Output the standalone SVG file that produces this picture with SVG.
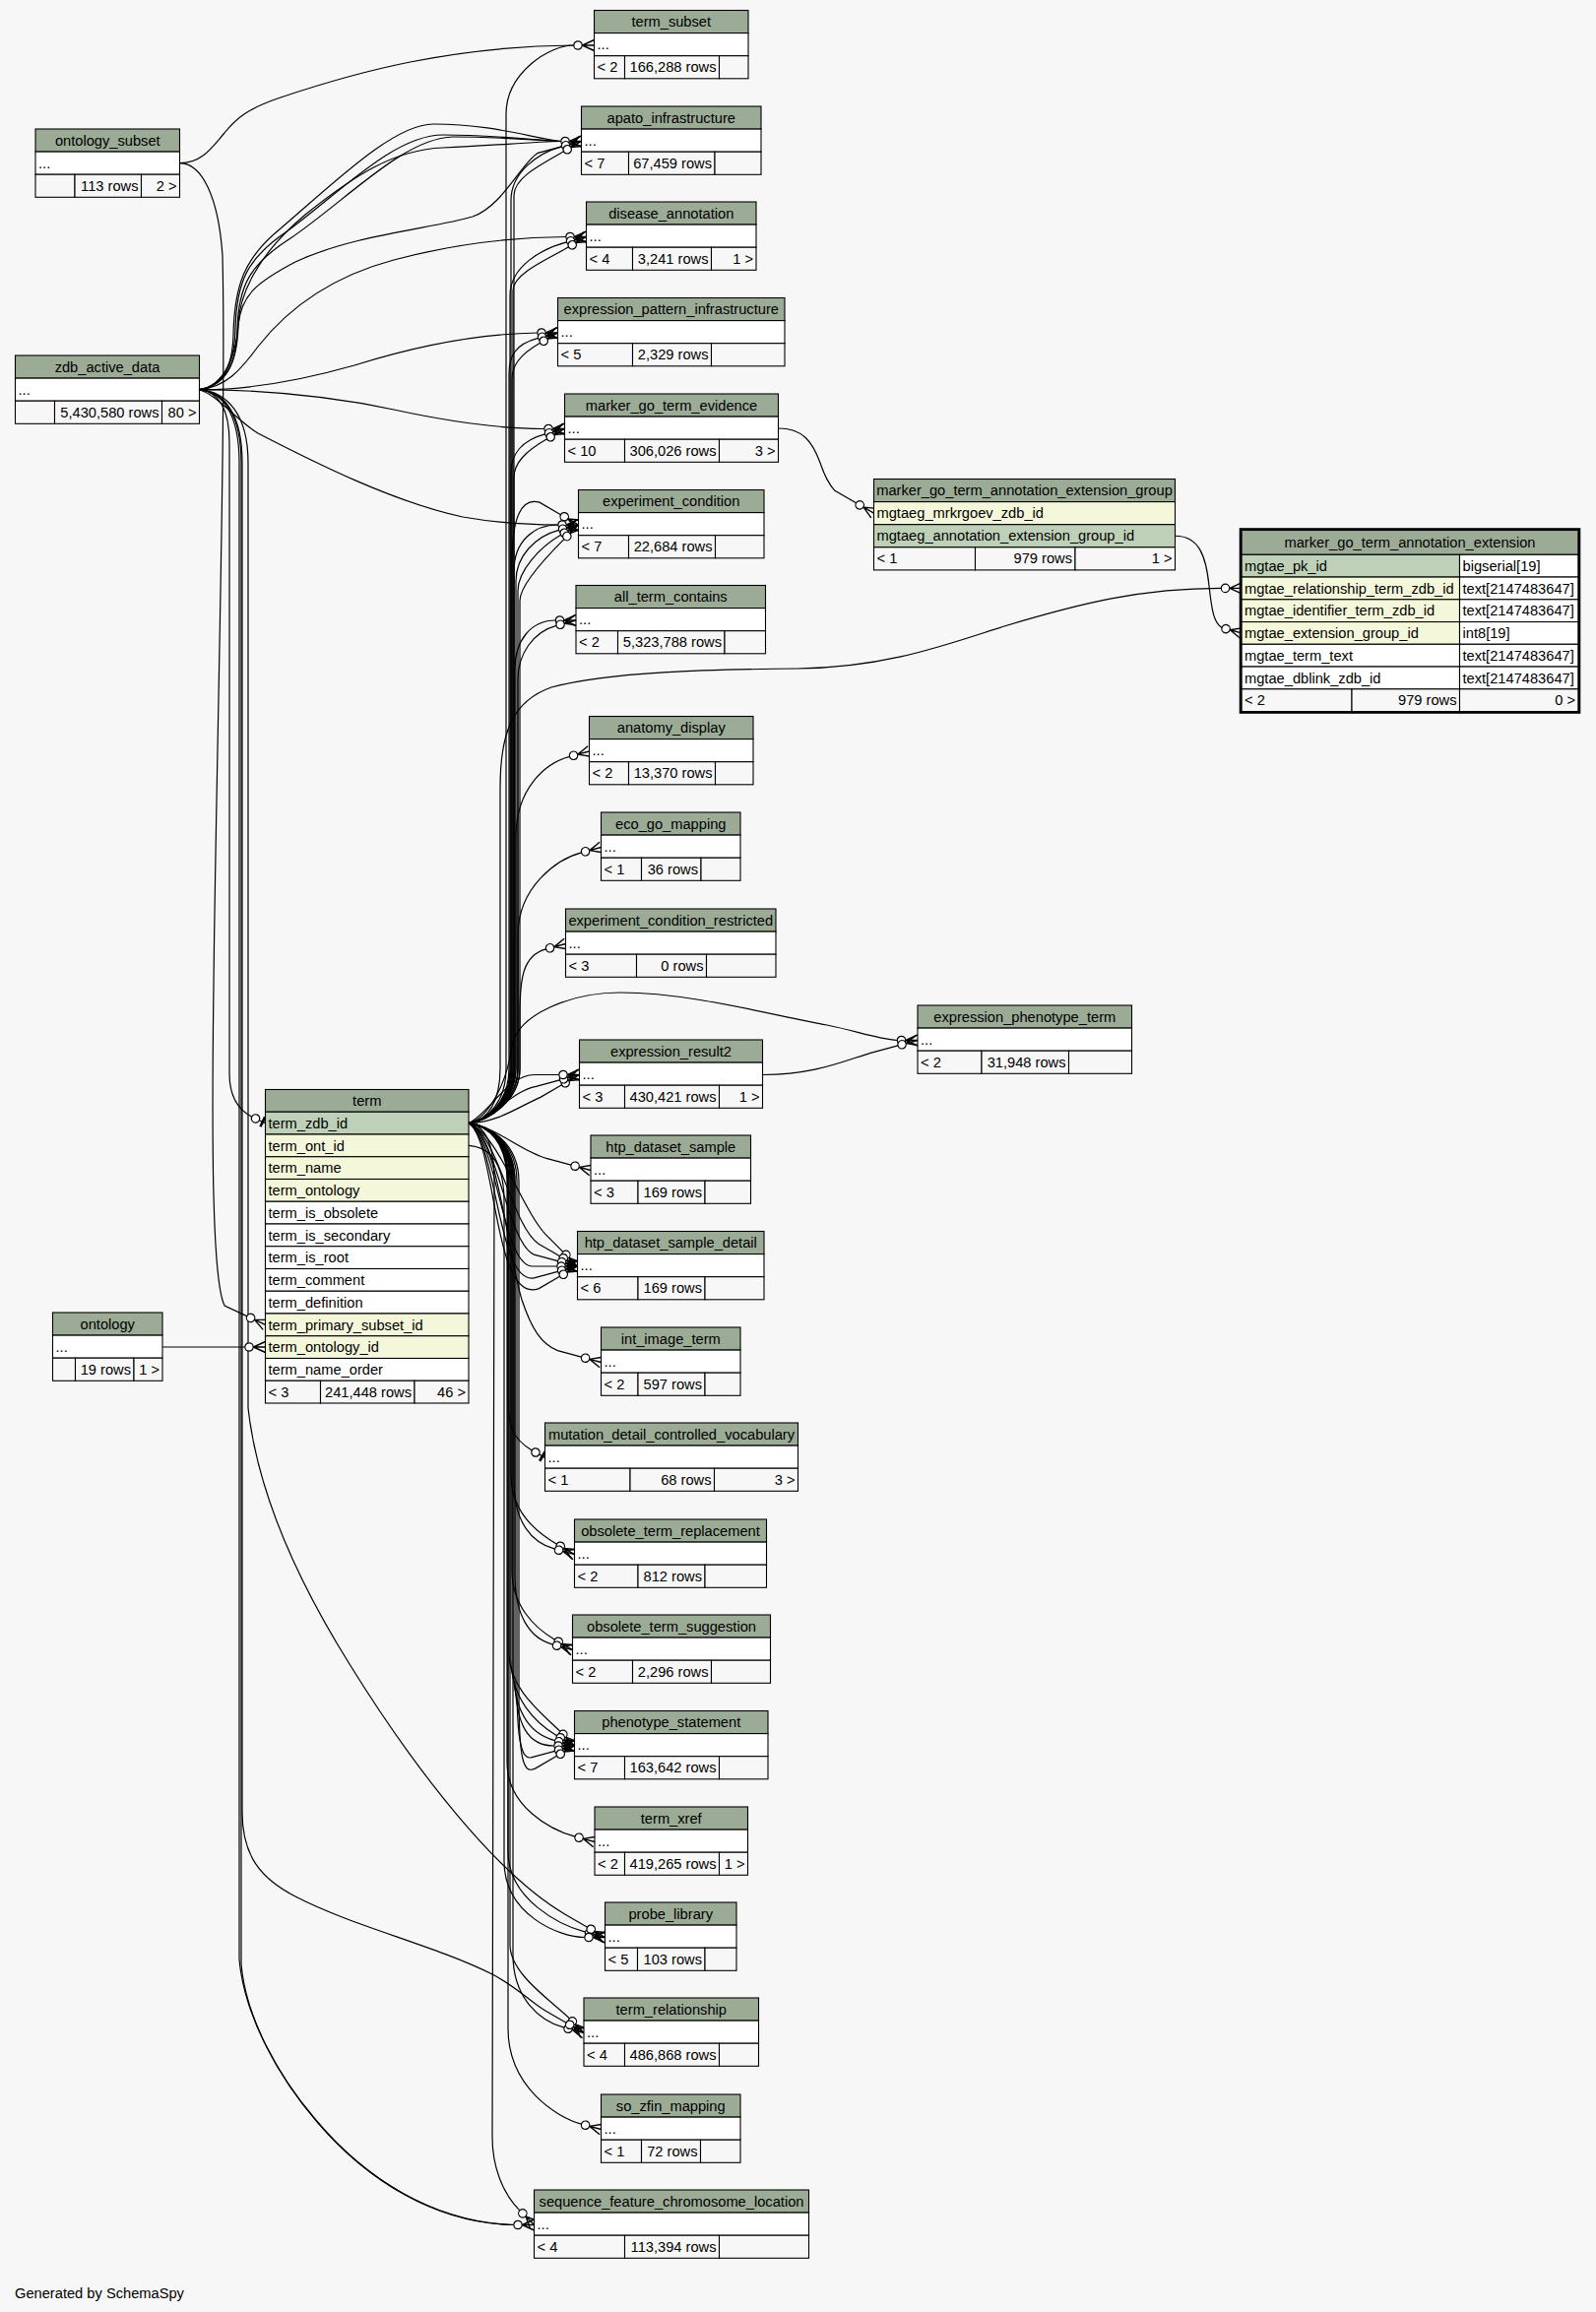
<svg xmlns="http://www.w3.org/2000/svg" xmlns:xlink="http://www.w3.org/1999/xlink" width="1621" height="2348" viewBox="0 0 1621 2348">
<style>
rect{stroke:#000;stroke-width:1.1}
.hd{fill:#9bab96}.bd{fill:#fff}.ft{fill:#f7f7f7}.pk{fill:#bed1b8}.fk{fill:#f4f7da}
text{font-family:"Liberation Sans",Arial,Helvetica,sans-serif;font-size:14.67px;fill:#000}
.c{text-anchor:middle}.r{text-anchor:end}
#connectors path{fill:none;stroke:#000;stroke-width:1.2}
</style>
<defs>
<g id="cod"><circle cx="-16.5" cy="0" r="4.2" fill="#fff" stroke="#000" stroke-width="1.2"/><path d="M-12.3,0H0M-12,0L0,-5.5M-12,0L0,5.5" fill="none" stroke="#000" stroke-width="1.4"/></g>
<g id="tod"><circle cx="-11" cy="0" r="4.2" fill="#fff" stroke="#000" stroke-width="1.2"/><path d="M-6.8,0H0" fill="none" stroke="#000" stroke-width="1.2"/><path d="M-3,-5.5V5.5" fill="none" stroke="#000" stroke-width="2.6"/></g>
</defs>
<rect x="0" y="0" width="1621" height="2348" fill="#f7f7f7" style="stroke:none"/>

<g id="connectors">
<!-- term edges -->
<path d="M476,1140.6 C496,1138 514,1118 514,1085 L514,116 C514,74 557.8,46 582.8,46"/>
<path d="M476,1140.6 C496,1138 519,1118 519,1085 L519,203.5 C519,175 546.4,155.33 570.5,148.86"/>
<path d="M476,1140.6 C496,1138 522,1118 522,1085 L522,198.5 C522,180 550.92,166.35 572.57,153.85"/>
<path d="M476,1140.6 C496,1138 518,1118 518,1085 L518,300 C518,270 551.4,252.33 575.5,245.86"/>
<path d="M476,1140.6 C496,1138 521,1118 521,1085 L521,295 C521,278 555.92,263.35 577.57,250.85"/>
<path d="M476,1140.6 C496,1138 517,1118 517,1085 L517,380 C517,362 522.4,349.83 546.5,343.36"/>
<path d="M476,1140.6 C496,1138 520,1118 520,1085 L520,385 C520,372 526.92,360.85 548.57,348.35"/>
<path d="M476,1140.6 C496,1138 519,1118 519,1085 L519,480 C519,462 529.4,447.33 553.5,440.86"/>
<path d="M476,1140.6 C496,1138 522,1118 522,1085 L522,485 C522,470 533.92,458.35 555.57,445.85"/>
<path d="M476,1140.6 C496,1138 520,1118 520,1085 L520,570 C520,525 530,505 547.92,510.15 L569.57,522.65"/>
<path d="M476,1140.6 C496,1138 522,1118 522,1085 L522,580 C522,550 541.8,533 566.8,533"/>
<path d="M476,1140.6 C496,1138 524,1118 524,1085 L524,590 C524,565 543.4,544.83 567.5,538.36"/>
<path d="M476,1140.6 C496,1138 526,1118 526,1085 L526,600 C526,580 547.92,555.85 569.57,543.35"/>
<path d="M476,1140.6 C496,1138 528,1118 528,1085 L528,610 C528,595 555.2,565.3 572.86,547.64"/>
<path d="M476,1140.6 C496,1138 523,1118 523,1085 L523,680 C523,650 539.3,630 564.3,630"/>
<path d="M476,1140.6 C496,1138 526,1118 526,1085 L526,690 C526,665 540.9,641.83 565,635.36"/>
<path d="M476,1140.6 C496,1138 508,1118 508,1085 L508,800 C508,745 520,712 560,698 C620,682 720,680 810,679 C900,678 960,655 1020,636 C1100,612 1160,597.4 1240.3,597.4"/>
<path d="M476,1140.6 C496,1138 524,1118 524,1085 L524,850 C524,800 554.4,774.83 578.5,768.36"/>
<path d="M476,1140.6 C496,1138 526,1118 526,1085 L526,950 C526,900 566.4,872.33 590.5,865.86"/>
<path d="M476,1140.6 C496,1138 528,1118 528,1085 L528,1030 C528,995 530.4,970.33 554.5,963.86"/>
<path d="M476,1140.6 C496,1136 515,1100 520,1062 C526,1030 580,1008 630,1008 C700,1008 780,1030 840,1041 C870,1047 890,1055 911.3,1056.5"/>
<path d="M476,1140.6 C505,1140 525,1125 548.92,1114.35 L570.57,1101.85"/>
<path d="M476,1140.6 C500,1136 520,1108 544.4,1103.33 L568.5,1096.86"/>
<path d="M476,1140.6 C498,1130 515,1091.5 542.8,1091.5 L567.8,1091.5"/>
<path d="M476,1140.6 C505,1145 530,1170 555.9,1176.67 L580,1183.14"/>
<path d="M476,1140.6 C505,1150 530,1228 554.2,1253.7 L571.86,1271.36"/>
<path d="M476,1140.6 C505,1150 520,1245 546.92,1263.15 L568.57,1275.65"/>
<path d="M476,1140.6 C505,1152 515,1262 542.4,1274.17 L566.5,1280.64"/>
<path d="M476,1140.6 C505,1155 510,1286 540.8,1286 L565.8,1286"/>
<path d="M476,1140.6 C505,1158 505,1305 542.4,1297.83 L566.5,1291.36"/>
<path d="M476,1140.6 C505,1160 500,1325 546.92,1308.85 L568.57,1296.35"/>
<path d="M476,1140.6 C505,1150 515,1270 530,1320 C540,1350 550,1365 566.4,1371.67 L590.5,1378.14"/>
<path d="M476,1140.6 C496,1143 516,1160 516,1200 L516,1420 C516,1445 518.7,1460.4 540.34,1472.9"/>
<path d="M476,1140.6 C496,1143 519,1160 519,1200 L519,1498.5 C519,1535 543.92,1555.65 565.57,1568.15"/>
<path d="M476,1140.6 C496,1143 522,1160 522,1200 L522,1505 C522,1545 539.4,1566.67 563.5,1573.14"/>
<path d="M476,1140.6 C496,1143 520,1160 520,1200 L520,1595 C520,1630 541.92,1652.65 563.57,1665.15"/>
<path d="M476,1140.6 C496,1143 523,1160 523,1200 L523,1600 C523,1640 537.4,1663.67 561.5,1670.14"/>
<path d="M476,1140.6 C496,1143 517,1160 517,1200 L517,1680 C517,1715 551.2,1740.7 568.86,1758.36"/>
<path d="M476,1140.6 C496,1143 519,1160 519,1200 L519,1685 C519,1725 543.92,1750.15 565.57,1762.65"/>
<path d="M476,1140.6 C496,1143 521,1160 521,1200 L521,1690 C521,1740 539.4,1761.17 563.5,1767.64"/>
<path d="M476,1140.6 C496,1143 523,1160 523,1200 L523,1700 C523,1755 537.8,1773 562.8,1773"/>
<path d="M476,1140.6 C496,1143 525,1160 525,1200 L525,1710 C525,1770 530,1787 539.4,1784.83 L563.5,1778.36"/>
<path d="M476,1140.6 C496,1143 527,1160 527,1200 L527,1720 C527,1790 532,1802 543.92,1795.85 L565.57,1783.35"/>
<path d="M476,1140.6 C496,1143 515,1160 515,1200 L515,1790 C515,1835 559.9,1858.67 584,1865.14"/>
<path d="M476,1140.6 C496,1143 516,1160 516,1200 L516,1880 C516,1930 570.4,1955.67 594.5,1962.14"/>
<path d="M476,1163.4 C500,1165 512,1185 512,1220 L512,1890 C512,1945 568.8,1967.5 593.8,1967.5"/>
<path d="M476,1140.6 C496,1143 518,1160 518,1200 L518,1975 C518,2005 560.7,2032.2 578.36,2049.86"/>
<path d="M476,1140.6 C496,1143 521,1160 521,1200 L521,1985 C521,2030 548.9,2052.67 573,2059.14"/>
<path d="M476,1140.6 C496,1143 516,1160 516,1200 L516,2060 C516,2120 566.4,2150.67 590.5,2157.14"/>
<path d="M476,1140.6 C494,1143 502,1165 502,1200 L500,2170 C500,2200 510.2,2227.2 527.86,2244.86"/>
<!-- zdb_active_data edges -->
<path d="M202.5,395.7 C225,392 236,375 237,340 C238,290 248,262 285,232 C340,185 400,126 440,126 C500,126 540,140 569.8,143.5"/>
<path d="M202.5,395.7 C226,392 238,372 239,335 C240,285 252,262 290,236 C345,196 400,137 450,137 C500,137 540,142 569.8,143.5"/>
<path d="M202.5,395.7 C227,392 240,372 241,335 C242,290 254,268 295,242 C350,205 410,140 460,139 C510,139 540,142 569.8,143.5"/>
<path d="M202.5,395.7 C228,392 241,372 242,330 C243,300 260,260 310,218 C360,178 400,152 450,150 C500,148 540,144 569.8,143.5"/>
<path d="M202.5,395.7 C228,392 240,360 242,330 C245,300 260,287 300,266 C360,238 440,232 480,220 C510,210 530,165 546.4,155.33 L570.5,148.86"/>
<path d="M202.5,395.7 C230,393 245,375 262,352 C295,310 340,280 400,264 C460,248 520,241 574.8,240.5"/>
<path d="M202.5,395.7 C250,396 300,388 360,371 C420,352 480,339 545.8,338"/>
<path d="M202.5,395.7 C260,396 330,401 400,416 C460,429 510,435.5 552.8,435.5"/>
<path d="M202.5,395.7 C222,402 238,425 262,440 C320,470 400,510 470,525 C510,532 540,533 566.8,533"/>
<path d="M202.5,395.7 C222,398 233,415 233,450 L233,1090 C233,1112 240,1126 255.73,1134.17"/>
<path d="M202.5,395.7 C230,398 252,420 252,470 L252,1430 C262,1520 305,1610 355,1690 C420,1795 505,1905 574.92,1944.65 L596.57,1957.15"/>
<path d="M202.5,395.7 C228,398 246,420 246,470 L246,1840 C246,1885 265,1908 300,1926 C360,1957 440,1975 500,2005 C525,2018 540,2034 553.42,2041.65 L575.07,2054.15"/>
<path d="M202.5,395.7 C226,398 243,420 243,470 L243,1990 C248,2045 280,2105 320,2152 C370,2212 440,2257 521.8,2259.5"/>
<path d="M202.5,395.7 C227,398 245,420 245,470 L245,1995 C250,2050 283,2110 323,2156 C373,2214 442,2258 521.8,2259.5"/>
<!-- ontology_subset edges -->
<path d="M182.5,165.7 C205,165.7 215,150 228,135 C240,120 252,110 285,99 C365,72 460,47 582.8,46"/>
<path d="M182.5,165.7 C205,165.7 222,200 226,260 C230,420 219,800 217,1000 C215,1150 215,1300 228.1,1326.1 L250.74,1336.65"/>
<!-- ontology edge -->
<path d="M165,1368 L248.8,1368"/>
<!-- marker_go_term_evidence -> group -->
<path d="M790.5,435 C815,435 825,448 833,470 C838,485 842,492 847.92,498.3 L869.57,510.8"/>
<!-- group -> extension -->
<path d="M1193.5,544.25 C1218,544.25 1225,565 1228,595 C1231,622 1233,632 1241,637.54"/>
<!-- expression_result2 -> expression_phenotype_term -->
<path d="M774.5,1091.5 C830,1091.5 860,1076 887.9,1068.33 L912,1061.86"/>

<!-- arrowheads -->
<use xlink:href="#cod" transform="translate(603.5,46)"/>
<use xlink:href="#cod" transform="translate(590.5,143.5)"/>
<use xlink:href="#cod" transform="translate(590.5,143.5) rotate(-15)"/>
<use xlink:href="#cod" transform="translate(590.5,143.5) rotate(-30)"/>
<use xlink:href="#cod" transform="translate(595.5,240.5)"/>
<use xlink:href="#cod" transform="translate(595.5,240.5) rotate(-15)"/>
<use xlink:href="#cod" transform="translate(595.5,240.5) rotate(-30)"/>
<use xlink:href="#cod" transform="translate(566.5,338)"/>
<use xlink:href="#cod" transform="translate(566.5,338) rotate(-15)"/>
<use xlink:href="#cod" transform="translate(566.5,338) rotate(-30)"/>
<use xlink:href="#cod" transform="translate(573.5,435.5)"/>
<use xlink:href="#cod" transform="translate(573.5,435.5) rotate(-15)"/>
<use xlink:href="#cod" transform="translate(573.5,435.5) rotate(-30)"/>
<use xlink:href="#cod" transform="translate(587.5,533) rotate(30)"/>
<use xlink:href="#cod" transform="translate(587.5,533)"/>
<use xlink:href="#cod" transform="translate(587.5,533) rotate(-15)"/>
<use xlink:href="#cod" transform="translate(587.5,533) rotate(-30)"/>
<use xlink:href="#cod" transform="translate(587.5,533) rotate(-45)"/>
<use xlink:href="#cod" transform="translate(585,630)"/>
<use xlink:href="#cod" transform="translate(585,630) rotate(-15)"/>
<use xlink:href="#cod" transform="translate(1261,597.4)"/>
<use xlink:href="#cod" transform="translate(598.5,763) rotate(-15)"/>
<use xlink:href="#cod" transform="translate(610.5,860.5) rotate(-15)"/>
<use xlink:href="#cod" transform="translate(574.5,958.5) rotate(-15)"/>
<use xlink:href="#cod" transform="translate(932,1056.5)"/>
<use xlink:href="#cod" transform="translate(932,1056.5) rotate(-15)"/>
<use xlink:href="#cod" transform="translate(588.5,1091.5) rotate(-30)"/>
<use xlink:href="#cod" transform="translate(588.5,1091.5) rotate(-15)"/>
<use xlink:href="#cod" transform="translate(588.5,1091.5)"/>
<use xlink:href="#cod" transform="translate(600,1188.5) rotate(15)"/>
<use xlink:href="#cod" transform="translate(586.5,1286) rotate(45)"/>
<use xlink:href="#cod" transform="translate(586.5,1286) rotate(30)"/>
<use xlink:href="#cod" transform="translate(586.5,1286) rotate(15)"/>
<use xlink:href="#cod" transform="translate(586.5,1286)"/>
<use xlink:href="#cod" transform="translate(586.5,1286) rotate(-15)"/>
<use xlink:href="#cod" transform="translate(586.5,1286) rotate(-30)"/>
<use xlink:href="#cod" transform="translate(610.5,1383.5) rotate(15)"/>
<use xlink:href="#tod" transform="translate(553.5,1480.5) rotate(30)"/>
<use xlink:href="#cod" transform="translate(583.5,1578.5) rotate(30)"/>
<use xlink:href="#cod" transform="translate(583.5,1578.5) rotate(15)"/>
<use xlink:href="#cod" transform="translate(581.5,1675.5) rotate(30)"/>
<use xlink:href="#cod" transform="translate(581.5,1675.5) rotate(15)"/>
<use xlink:href="#cod" transform="translate(583.5,1773) rotate(45)"/>
<use xlink:href="#cod" transform="translate(583.5,1773) rotate(30)"/>
<use xlink:href="#cod" transform="translate(583.5,1773) rotate(15)"/>
<use xlink:href="#cod" transform="translate(583.5,1773)"/>
<use xlink:href="#cod" transform="translate(583.5,1773) rotate(-15)"/>
<use xlink:href="#cod" transform="translate(583.5,1773) rotate(-30)"/>
<use xlink:href="#cod" transform="translate(604,1870.5) rotate(15)"/>
<use xlink:href="#cod" transform="translate(614.5,1967.5) rotate(15)"/>
<use xlink:href="#cod" transform="translate(614.5,1967.5)"/>
<use xlink:href="#cod" transform="translate(614.5,1967.5) rotate(30)"/>
<use xlink:href="#cod" transform="translate(593,2064.5) rotate(45)"/>
<use xlink:href="#cod" transform="translate(593,2064.5) rotate(15)"/>
<use xlink:href="#cod" transform="translate(593,2064.5) rotate(30)"/>
<use xlink:href="#cod" transform="translate(610.5,2162.5) rotate(15)"/>
<use xlink:href="#cod" transform="translate(542.5,2259.5) rotate(45)"/>
<use xlink:href="#cod" transform="translate(542.5,2259.5)"/>
<use xlink:href="#tod" transform="translate(269.5,1140.6) rotate(25)"/>
<use xlink:href="#cod" transform="translate(269.5,1345.4) rotate(25)"/>
<use xlink:href="#cod" transform="translate(269.5,1368)"/>
<use xlink:href="#cod" transform="translate(887.5,521.15) rotate(30)"/>
<use xlink:href="#cod" transform="translate(1261,642.9) rotate(15)"/>
</g>

<g id="term_subset">
<rect class="hd" x="603.5" y="10.5" width="156.5" height="23.1"/><text class="c" x="681.75" y="27">term_subset</text>
<rect class="bd" x="603.5" y="33.6" width="156.5" height="23.1"/><text x="606.5" y="50.1">...</text>
<rect class="ft" x="603.5" y="56.7" width="31" height="23.1"/><rect class="ft" x="634.5" y="56.7" width="96" height="23.1"/><rect class="ft" x="730.5" y="56.7" width="29.5" height="23.1"/>
<text x="606.5" y="73.2">&lt; 2</text><text class="r" x="727.5" y="73.2">166,288 rows</text>
</g>
<g id="apato_infrastructure">
<rect class="hd" x="590.5" y="108" width="182.5" height="23.1"/><text class="c" x="681.75" y="124.5">apato_infrastructure</text>
<rect class="bd" x="590.5" y="131.1" width="182.5" height="23.1"/><text x="593.5" y="147.6">...</text>
<rect class="ft" x="590.5" y="154.2" width="48" height="23.1"/><rect class="ft" x="638.5" y="154.2" width="87.5" height="23.1"/><rect class="ft" x="726" y="154.2" width="47" height="23.1"/>
<text x="593.5" y="170.7">&lt; 7</text><text class="r" x="723" y="170.7">67,459 rows</text>
</g>
<g id="disease_annotation">
<rect class="hd" x="595.5" y="205" width="172.5" height="23.1"/><text class="c" x="681.75" y="221.5">disease_annotation</text>
<rect class="bd" x="595.5" y="228.1" width="172.5" height="23.1"/><text x="598.5" y="244.6">...</text>
<rect class="ft" x="595.5" y="251.2" width="47" height="23.1"/><rect class="ft" x="642.5" y="251.2" width="80" height="23.1"/><rect class="ft" x="722.5" y="251.2" width="45.5" height="23.1"/>
<text x="598.5" y="267.7">&lt; 4</text><text class="r" x="719.5" y="267.7">3,241 rows</text><text class="r" x="765" y="267.7">1 &gt;</text>
</g>
<g id="expression_pattern_infrastructure">
<rect class="hd" x="566.5" y="302.5" width="230.5" height="23.1"/><text class="c" x="681.75" y="319">expression_pattern_infrastructure</text>
<rect class="bd" x="566.5" y="325.6" width="230.5" height="23.1"/><text x="569.5" y="342.1">...</text>
<rect class="ft" x="566.5" y="348.7" width="76" height="23.1"/><rect class="ft" x="642.5" y="348.7" width="80" height="23.1"/><rect class="ft" x="722.5" y="348.7" width="74.5" height="23.1"/>
<text x="569.5" y="365.2">&lt; 5</text><text class="r" x="719.5" y="365.2">2,329 rows</text>
</g>
<g id="marker_go_term_evidence">
<rect class="hd" x="573.5" y="400" width="217" height="23.1"/><text class="c" x="682" y="416.5">marker_go_term_evidence</text>
<rect class="bd" x="573.5" y="423.1" width="217" height="23.1"/><text x="576.5" y="439.6">...</text>
<rect class="ft" x="573.5" y="446.2" width="61" height="23.1"/><rect class="ft" x="634.5" y="446.2" width="96" height="23.1"/><rect class="ft" x="730.5" y="446.2" width="60" height="23.1"/>
<text x="576.5" y="462.7">&lt; 10</text><text class="r" x="727.5" y="462.7">306,026 rows</text><text class="r" x="787.5" y="462.7">3 &gt;</text>
</g>
<g id="experiment_condition">
<rect class="hd" x="587.5" y="497.5" width="188.5" height="23.1"/><text class="c" x="681.75" y="514">experiment_condition</text>
<rect class="bd" x="587.5" y="520.6" width="188.5" height="23.1"/><text x="590.5" y="537.1">...</text>
<rect class="ft" x="587.5" y="543.7" width="51" height="23.1"/><rect class="ft" x="638.5" y="543.7" width="88" height="23.1"/><rect class="ft" x="726.5" y="543.7" width="49.5" height="23.1"/>
<text x="590.5" y="560.2">&lt; 7</text><text class="r" x="723.5" y="560.2">22,684 rows</text>
</g>
<g id="all_term_contains">
<rect class="hd" x="585" y="594.5" width="192.5" height="23.1"/><text class="c" x="681.25" y="611">all_term_contains</text>
<rect class="bd" x="585" y="617.6" width="192.5" height="23.1"/><text x="588" y="634.1">...</text>
<rect class="ft" x="585" y="640.7" width="42.5" height="23.1"/><rect class="ft" x="627.5" y="640.7" width="108.5" height="23.1"/><rect class="ft" x="736" y="640.7" width="41.5" height="23.1"/>
<text x="588" y="657.2">&lt; 2</text><text class="r" x="733" y="657.2">5,323,788 rows</text>
</g>
<g id="anatomy_display">
<rect class="hd" x="598.5" y="727.5" width="166.5" height="23.1"/><text class="c" x="681.75" y="744">anatomy_display</text>
<rect class="bd" x="598.5" y="750.6" width="166.5" height="23.1"/><text x="601.5" y="767.1">...</text>
<rect class="ft" x="598.5" y="773.7" width="40" height="23.1"/><rect class="ft" x="638.5" y="773.7" width="88" height="23.1"/><rect class="ft" x="726.5" y="773.7" width="38.5" height="23.1"/>
<text x="601.5" y="790.2">&lt; 2</text><text class="r" x="723.5" y="790.2">13,370 rows</text>
</g>
<g id="eco_go_mapping">
<rect class="hd" x="610.5" y="825" width="141.5" height="23.1"/><text class="c" x="681.25" y="841.5">eco_go_mapping</text>
<rect class="bd" x="610.5" y="848.1" width="141.5" height="23.1"/><text x="613.5" y="864.6">...</text>
<rect class="ft" x="610.5" y="871.2" width="41" height="23.1"/><rect class="ft" x="651.5" y="871.2" width="60.5" height="23.1"/><rect class="ft" x="712" y="871.2" width="40" height="23.1"/>
<text x="613.5" y="887.7">&lt; 1</text><text class="r" x="709" y="887.7">36 rows</text>
</g>
<g id="experiment_condition_restricted">
<rect class="hd" x="574.5" y="923" width="213.5" height="23.1"/><text class="c" x="681.25" y="939.5">experiment_condition_restricted</text>
<rect class="bd" x="574.5" y="946.1" width="213.5" height="23.1"/><text x="577.5" y="962.6">...</text>
<rect class="ft" x="574.5" y="969.2" width="72" height="23.1"/><rect class="ft" x="646.5" y="969.2" width="71" height="23.1"/><rect class="ft" x="717.5" y="969.2" width="70.5" height="23.1"/>
<text x="577.5" y="985.7">&lt; 3</text><text class="r" x="714.5" y="985.7">0 rows</text>
</g>
<g id="expression_phenotype_term">
<rect class="hd" x="932" y="1021" width="217.5" height="23.1"/><text class="c" x="1040.75" y="1037.5">expression_phenotype_term</text>
<rect class="bd" x="932" y="1044.1" width="217.5" height="23.1"/><text x="935" y="1060.6">...</text>
<rect class="ft" x="932" y="1067.2" width="65" height="23.1"/><rect class="ft" x="997" y="1067.2" width="88.5" height="23.1"/><rect class="ft" x="1085.5" y="1067.2" width="64" height="23.1"/>
<text x="935" y="1083.7">&lt; 2</text><text class="r" x="1082.5" y="1083.7">31,948 rows</text>
</g>
<g id="expression_result2">
<rect class="hd" x="588.5" y="1056" width="186" height="23.1"/><text class="c" x="681.5" y="1072.5">expression_result2</text>
<rect class="bd" x="588.5" y="1079.1" width="186" height="23.1"/><text x="591.5" y="1095.6">...</text>
<rect class="ft" x="588.5" y="1102.2" width="46" height="23.1"/><rect class="ft" x="634.5" y="1102.2" width="96" height="23.1"/><rect class="ft" x="730.5" y="1102.2" width="44" height="23.1"/>
<text x="591.5" y="1118.7">&lt; 3</text><text class="r" x="727.5" y="1118.7">430,421 rows</text><text class="r" x="771.5" y="1118.7">1 &gt;</text>
</g>
<g id="htp_dataset_sample">
<rect class="hd" x="600" y="1153" width="162.5" height="23.1"/><text class="c" x="681.25" y="1169.5">htp_dataset_sample</text>
<rect class="bd" x="600" y="1176.1" width="162.5" height="23.1"/><text x="603" y="1192.6">...</text>
<rect class="ft" x="600" y="1199.2" width="48" height="23.1"/><rect class="ft" x="648" y="1199.2" width="68" height="23.1"/><rect class="ft" x="716" y="1199.2" width="46.5" height="23.1"/>
<text x="603" y="1215.7">&lt; 3</text><text class="r" x="713" y="1215.7">169 rows</text>
</g>
<g id="htp_dataset_sample_detail">
<rect class="hd" x="586.5" y="1250.5" width="189.5" height="23.1"/><text class="c" x="681.25" y="1267">htp_dataset_sample_detail</text>
<rect class="bd" x="586.5" y="1273.6" width="189.5" height="23.1"/><text x="589.5" y="1290.1">...</text>
<rect class="ft" x="586.5" y="1296.7" width="61.5" height="23.1"/><rect class="ft" x="648" y="1296.7" width="68" height="23.1"/><rect class="ft" x="716" y="1296.7" width="60" height="23.1"/>
<text x="589.5" y="1313.2">&lt; 6</text><text class="r" x="713" y="1313.2">169 rows</text>
</g>
<g id="int_image_term">
<rect class="hd" x="610.5" y="1348" width="141.5" height="23.1"/><text class="c" x="681.25" y="1364.5">int_image_term</text>
<rect class="bd" x="610.5" y="1371.1" width="141.5" height="23.1"/><text x="613.5" y="1387.6">...</text>
<rect class="ft" x="610.5" y="1394.2" width="37.5" height="23.1"/><rect class="ft" x="648" y="1394.2" width="68" height="23.1"/><rect class="ft" x="716" y="1394.2" width="36" height="23.1"/>
<text x="613.5" y="1410.7">&lt; 2</text><text class="r" x="713" y="1410.7">597 rows</text>
</g>
<g id="mutation_detail_controlled_vocabulary">
<rect class="hd" x="553.5" y="1445" width="257" height="23.1"/><text class="c" x="682" y="1461.5">mutation_detail_controlled_vocabulary</text>
<rect class="bd" x="553.5" y="1468.1" width="257" height="23.1"/><text x="556.5" y="1484.6">...</text>
<rect class="ft" x="553.5" y="1491.2" width="86.5" height="23.1"/><rect class="ft" x="640" y="1491.2" width="85.5" height="23.1"/><rect class="ft" x="725.5" y="1491.2" width="85" height="23.1"/>
<text x="556.5" y="1507.7">&lt; 1</text><text class="r" x="722.5" y="1507.7">68 rows</text><text class="r" x="807.5" y="1507.7">3 &gt;</text>
</g>
<g id="obsolete_term_replacement">
<rect class="hd" x="583.5" y="1543" width="195" height="23.1"/><text class="c" x="681" y="1559.5">obsolete_term_replacement</text>
<rect class="bd" x="583.5" y="1566.1" width="195" height="23.1"/><text x="586.5" y="1582.6">...</text>
<rect class="ft" x="583.5" y="1589.2" width="64.5" height="23.1"/><rect class="ft" x="648" y="1589.2" width="68" height="23.1"/><rect class="ft" x="716" y="1589.2" width="62.5" height="23.1"/>
<text x="586.5" y="1605.7">&lt; 2</text><text class="r" x="713" y="1605.7">812 rows</text>
</g>
<g id="obsolete_term_suggestion">
<rect class="hd" x="581.5" y="1640" width="201" height="23.1"/><text class="c" x="682" y="1656.5">obsolete_term_suggestion</text>
<rect class="bd" x="581.5" y="1663.1" width="201" height="23.1"/><text x="584.5" y="1679.6">...</text>
<rect class="ft" x="581.5" y="1686.2" width="61" height="23.1"/><rect class="ft" x="642.5" y="1686.2" width="80" height="23.1"/><rect class="ft" x="722.5" y="1686.2" width="60" height="23.1"/>
<text x="584.5" y="1702.7">&lt; 2</text><text class="r" x="719.5" y="1702.7">2,296 rows</text>
</g>
<g id="phenotype_statement">
<rect class="hd" x="583.5" y="1737.5" width="196.5" height="23.1"/><text class="c" x="681.75" y="1754">phenotype_statement</text>
<rect class="bd" x="583.5" y="1760.6" width="196.5" height="23.1"/><text x="586.5" y="1777.1">...</text>
<rect class="ft" x="583.5" y="1783.7" width="51" height="23.1"/><rect class="ft" x="634.5" y="1783.7" width="96" height="23.1"/><rect class="ft" x="730.5" y="1783.7" width="49.5" height="23.1"/>
<text x="586.5" y="1800.2">&lt; 7</text><text class="r" x="727.5" y="1800.2">163,642 rows</text>
</g>
<g id="term_xref">
<rect class="hd" x="604" y="1835" width="155.5" height="23.1"/><text class="c" x="681.75" y="1851.5">term_xref</text>
<rect class="bd" x="604" y="1858.1" width="155.5" height="23.1"/><text x="607" y="1874.6">...</text>
<rect class="ft" x="604" y="1881.2" width="30.5" height="23.1"/><rect class="ft" x="634.5" y="1881.2" width="96" height="23.1"/><rect class="ft" x="730.5" y="1881.2" width="29" height="23.1"/>
<text x="607" y="1897.7">&lt; 2</text><text class="r" x="727.5" y="1897.7">419,265 rows</text><text class="r" x="756.5" y="1897.7">1 &gt;</text>
</g>
<g id="probe_library">
<rect class="hd" x="614.5" y="1932" width="133.5" height="23.1"/><text class="c" x="681.25" y="1948.5">probe_library</text>
<rect class="bd" x="614.5" y="1955.1" width="133.5" height="23.1"/><text x="617.5" y="1971.6">...</text>
<rect class="ft" x="614.5" y="1978.2" width="33" height="23.1"/><rect class="ft" x="647.5" y="1978.2" width="68.5" height="23.1"/><rect class="ft" x="716" y="1978.2" width="32" height="23.1"/>
<text x="617.5" y="1994.7">&lt; 5</text><text class="r" x="713" y="1994.7">103 rows</text>
</g>
<g id="term_relationship">
<rect class="hd" x="593" y="2029" width="177.5" height="23.1"/><text class="c" x="681.75" y="2045.5">term_relationship</text>
<rect class="bd" x="593" y="2052.1" width="177.5" height="23.1"/><text x="596" y="2068.6">...</text>
<rect class="ft" x="593" y="2075.2" width="41.5" height="23.1"/><rect class="ft" x="634.5" y="2075.2" width="96" height="23.1"/><rect class="ft" x="730.5" y="2075.2" width="40" height="23.1"/>
<text x="596" y="2091.7">&lt; 4</text><text class="r" x="727.5" y="2091.7">486,868 rows</text>
</g>
<g id="so_zfin_mapping">
<rect class="hd" x="610.5" y="2127" width="141.5" height="23.1"/><text class="c" x="681.25" y="2143.5">so_zfin_mapping</text>
<rect class="bd" x="610.5" y="2150.1" width="141.5" height="23.1"/><text x="613.5" y="2166.6">...</text>
<rect class="ft" x="610.5" y="2173.2" width="41" height="23.1"/><rect class="ft" x="651.5" y="2173.2" width="60" height="23.1"/><rect class="ft" x="711.5" y="2173.2" width="40.5" height="23.1"/>
<text x="613.5" y="2189.7">&lt; 1</text><text class="r" x="708.5" y="2189.7">72 rows</text>
</g>
<g id="sequence_feature_chromosome_location">
<rect class="hd" x="542.5" y="2224" width="279" height="23.1"/><text class="c" x="682" y="2240.5">sequence_feature_chromosome_location</text>
<rect class="bd" x="542.5" y="2247.1" width="279" height="23.1"/><text x="545.5" y="2263.6">...</text>
<rect class="ft" x="542.5" y="2270.2" width="92" height="23.1"/><rect class="ft" x="634.5" y="2270.2" width="96" height="23.1"/><rect class="ft" x="730.5" y="2270.2" width="91" height="23.1"/>
<text x="545.5" y="2286.7">&lt; 4</text><text class="r" x="727.5" y="2286.7">113,394 rows</text>
</g>
<g id="ontology_subset">
<rect class="hd" x="36" y="131" width="146.5" height="23.1"/><text class="c" x="109.25" y="147.5">ontology_subset</text>
<rect class="bd" x="36" y="154.1" width="146.5" height="23.1"/><text x="39" y="170.6">...</text>
<rect class="ft" x="36" y="177.2" width="40" height="23.1"/><rect class="ft" x="76" y="177.2" width="67.5" height="23.1"/><rect class="ft" x="143.5" y="177.2" width="39" height="23.1"/>
<text class="r" x="140.5" y="193.7">113 rows</text><text class="r" x="179.5" y="193.7">2 &gt;</text>
</g>
<g id="zdb_active_data">
<rect class="hd" x="15.5" y="361" width="187" height="23.1"/><text class="c" x="109" y="377.5">zdb_active_data</text>
<rect class="bd" x="15.5" y="384.1" width="187" height="23.1"/><text x="18.5" y="400.6">...</text>
<rect class="ft" x="15.5" y="407.2" width="40" height="23.1"/><rect class="ft" x="55.5" y="407.2" width="109" height="23.1"/><rect class="ft" x="164.5" y="407.2" width="38" height="23.1"/>
<text class="r" x="161.5" y="423.7">5,430,580 rows</text><text class="r" x="199.5" y="423.7">80 &gt;</text>
</g>
<g id="ontology">
<rect class="hd" x="53.5" y="1333" width="111.5" height="23.1"/><text class="c" x="109.25" y="1349.5">ontology</text>
<rect class="bd" x="53.5" y="1356.1" width="111.5" height="23.1"/><text x="56.5" y="1372.6">...</text>
<rect class="ft" x="53.5" y="1379.2" width="23" height="23.1"/><rect class="ft" x="76.5" y="1379.2" width="59.5" height="23.1"/><rect class="ft" x="136" y="1379.2" width="29" height="23.1"/>
<text class="r" x="133" y="1395.7">19 rows</text><text class="r" x="162" y="1395.7">1 &gt;</text>
</g>
<g id="term">
<rect class="hd" x="269.5" y="1106.5" width="206.5" height="22.75"/><text class="c" x="372.75" y="1123">term</text>
<rect class="pk" x="269.5" y="1129.25" width="206.5" height="22.75"/><text x="272.5" y="1145.75">term_zdb_id</text>
<rect class="fk" x="269.5" y="1152" width="206.5" height="22.75"/><text x="272.5" y="1168.5">term_ont_id</text>
<rect class="fk" x="269.5" y="1174.75" width="206.5" height="22.75"/><text x="272.5" y="1191.25">term_name</text>
<rect class="fk" x="269.5" y="1197.5" width="206.5" height="22.75"/><text x="272.5" y="1214">term_ontology</text>
<rect class="bd" x="269.5" y="1220.25" width="206.5" height="22.75"/><text x="272.5" y="1236.75">term_is_obsolete</text>
<rect class="bd" x="269.5" y="1243" width="206.5" height="22.75"/><text x="272.5" y="1259.5">term_is_secondary</text>
<rect class="bd" x="269.5" y="1265.75" width="206.5" height="22.75"/><text x="272.5" y="1282.25">term_is_root</text>
<rect class="bd" x="269.5" y="1288.5" width="206.5" height="22.75"/><text x="272.5" y="1305">term_comment</text>
<rect class="bd" x="269.5" y="1311.25" width="206.5" height="22.75"/><text x="272.5" y="1327.75">term_definition</text>
<rect class="fk" x="269.5" y="1334" width="206.5" height="22.75"/><text x="272.5" y="1350.5">term_primary_subset_id</text>
<rect class="fk" x="269.5" y="1356.75" width="206.5" height="22.75"/><text x="272.5" y="1373.25">term_ontology_id</text>
<rect class="bd" x="269.5" y="1379.5" width="206.5" height="22.75"/><text x="272.5" y="1396">term_name_order</text>
<rect class="ft" x="269.5" y="1402.25" width="56" height="22.75"/><rect class="ft" x="325.5" y="1402.25" width="95.5" height="22.75"/><rect class="ft" x="421" y="1402.25" width="55" height="22.75"/>
<text x="272.5" y="1418.75">&lt; 3</text><text class="r" x="418" y="1418.75">241,448 rows</text><text class="r" x="473" y="1418.75">46 &gt;</text>
</g>
<g id="marker_go_term_annotation_extension_group">
<rect class="hd" x="887.5" y="486.5" width="306" height="23.1"/><text class="c" x="1040.5" y="503">marker_go_term_annotation_extension_group</text>
<rect class="fk" x="887.5" y="509.6" width="306" height="23.1"/><text x="890.5" y="526.1">mgtaeg_mrkrgoev_zdb_id</text>
<rect class="pk" x="887.5" y="532.7" width="306" height="23.1"/><text x="890.5" y="549.2">mgtaeg_annotation_extension_group_id</text>
<rect class="ft" x="887.5" y="555.8" width="103" height="23.1"/><rect class="ft" x="990.5" y="555.8" width="101.5" height="23.1"/><rect class="ft" x="1092" y="555.8" width="101.5" height="23.1"/>
<text x="890.5" y="572.3">&lt; 1</text><text class="r" x="1089" y="572.3">979 rows</text><text class="r" x="1190.5" y="572.3">1 &gt;</text>
</g>
<g id="marker_go_term_annotation_extension">
<rect class="hd" x="1261" y="538.5" width="342" height="24.8"/><text class="c" x="1432" y="555.5">marker_go_term_annotation_extension</text>
<rect class="pk" x="1261" y="563.3" width="221.5" height="22.75"/><rect class="bd" x="1482.5" y="563.3" width="120.5" height="22.75"/>
<text x="1264" y="579.8">mgtae_pk_id</text><text x="1485.5" y="579.8">bigserial[19]</text>
<rect class="fk" x="1261" y="586.05" width="221.5" height="22.75"/><rect class="bd" x="1482.5" y="586.05" width="120.5" height="22.75"/>
<text x="1264" y="602.55">mgtae_relationship_term_zdb_id</text><text x="1485.5" y="602.55">text[2147483647]</text>
<rect class="fk" x="1261" y="608.8" width="221.5" height="22.75"/><rect class="bd" x="1482.5" y="608.8" width="120.5" height="22.75"/>
<text x="1264" y="625.3">mgtae_identifier_term_zdb_id</text><text x="1485.5" y="625.3">text[2147483647]</text>
<rect class="fk" x="1261" y="631.55" width="221.5" height="22.75"/><rect class="bd" x="1482.5" y="631.55" width="120.5" height="22.75"/>
<text x="1264" y="648.05">mgtae_extension_group_id</text><text x="1485.5" y="648.05">int8[19]</text>
<rect class="bd" x="1261" y="654.3" width="221.5" height="22.75"/><rect class="bd" x="1482.5" y="654.3" width="120.5" height="22.75"/>
<text x="1264" y="670.8">mgtae_term_text</text><text x="1485.5" y="670.8">text[2147483647]</text>
<rect class="bd" x="1261" y="677.05" width="221.5" height="22.75"/><rect class="bd" x="1482.5" y="677.05" width="120.5" height="22.75"/>
<text x="1264" y="693.55">mgtae_dblink_zdb_id</text><text x="1485.5" y="693.55">text[2147483647]</text>
<rect class="ft" x="1261" y="699.8" width="112" height="22.75"/><rect class="ft" x="1373" y="699.8" width="109.5" height="22.75"/><rect class="ft" x="1482.5" y="699.8" width="120.5" height="22.75"/>
<text x="1264" y="716.3">&lt; 2</text><text class="r" x="1479.5" y="716.3">979 rows</text><text class="r" x="1600" y="716.3">0 &gt;</text>
<rect x="1260" y="537.5" width="344" height="186" fill="none" style="stroke-width:2.6"/>
</g>
<text x="15" y="2334">Generated by SchemaSpy</text>
</svg>
